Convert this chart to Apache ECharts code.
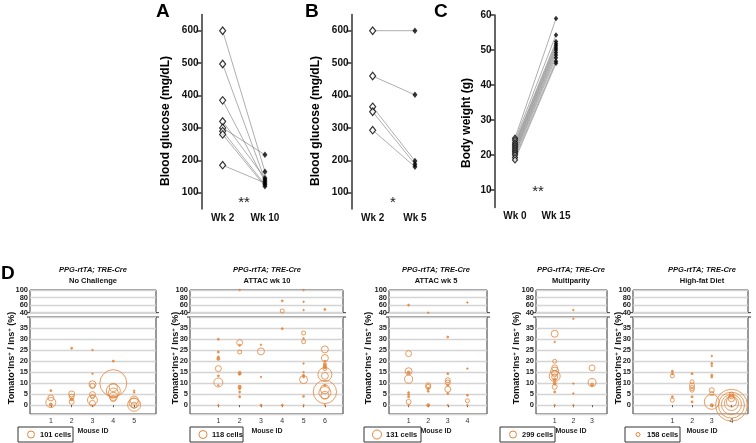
<!DOCTYPE html>
<html><head><meta charset="utf-8">
<script src="https://cdn.jsdelivr.net/npm/echarts@6/dist/echarts.min.js"></script>
<style>html,body{margin:0;padding:0;background:#fff}#c{width:756px;height:443px}</style>
</head><body><div id="c"></div>
<script>
// ================= DATA =================
// Panel A
const catsA = ['Wk 2', 'Wk 10'];
const glucoseA_wk2  = [600, 497, 385, 320, 300, 290, 280, 185];
const glucoseA_wk10 = [165, 140, 135, 145, 217, 125, 120, 130];
// Panel B
const catsB = ['Wk 2', 'Wk 5'];
const glucoseB_wk2 = [600, 460, 365, 350, 293];
const glucoseB_wk5 = [600, 402, 198, 188, 180];
// Panel C
const catsC = ['Wk 0', 'Wk 15'];
const weight_wk0  = [24.8, 24.2, 23.5, 23.0, 22.5, 22.0, 21.5, 21.0, 20.5, 20.0, 19.3, 18.6];
const weight_wk15 = [59.0, 54.3, 52.4, 51.8, 51.2, 50.6, 50.0, 49.3, 48.6, 47.8, 46.8, 46.2];
const glucoseTicks = [100, 200, 300, 400, 500, 600];
const weightTicks = [10, 20, 30, 40, 50, 60];

// Panel D
const dGenotype = 'PPG-rtTA; TRE-Cre';
const dTitles = ['No Challenge', 'ATTAC wk 10', 'ATTAC wk 5', 'Multiparity', 'High-fat Diet'];
const dMice = [[1,2,3,4,5], [1,2,3,4,5,6], [1,2,3,4], [1,2,3], [1,2,3,4]];
const dLegendCells = [101, 118, 131, 299, 158];
const topTickGroups = [[40, 100], [60], [80]];
const bottomTicks = [0, 5, 10, 15, 20, 25, 30, 35];

const noChallenge_mouse = [1,1,1,1, 2,2,2,2,2, 3,3,3,3,3,3,3,3, 4,4,4,4,4,4,4, 5,5,5,5,5,5];
const noChallenge_pct   = [6.6,3.3,1.2,0.3, 25.8,5.1,3.9,2.7,1.5, 25,14.3,9.5,8.7,4.8,3.8,2.3,0.8, 20,10,8,6.5,5.5,4,3, 6.6,5.8,2.3,1,0.2,0];
const noChallenge_cells = [8,74,206,19, 8,74,52,19,52, 2,2,101,52,74,33,206,74, 8,1500,132,404,206,132,74, 2,2,132,206,350,74];

const attac10_mouse = [1,1,1,1,1,1,1,1,1, 2,2,2,2,2,2,2,2,2,2, 3,3,3,3, 4,4,4,4, 5,5,5,5,5,5,5,5,5,5,5,5,5, 6,6,6,6,6,6,6,6,6,6,6,6,6,6,6];
const attac10_pct   = [29.9,24.1,21.9,21.1,16.6,13.3,10.3,9,0, 100,28.4,27.2,24.1,14.6,14,8.3,7.5,6,3.8, 27.4,24.4,12.8,0, 71.3,44.3,34.7,0, 100,68.7,47,32.7,30.3,28.8,18.9,15,13.6,12.8,11.6,4,0, 48.7,25.3,21.4,19.9,18.4,17.3,16.6,13.9,13.3,9,7.2,6,5.7,4.5,0];
const attac10_cells = [7,7,7,17,66,7,149,2,2, 2,66,7,29,17,7,17,7,7,7, 2,90,2,7, 7,29,7,7, 2,2,2,29,2,29,2,2,7,7,118,7,2, 7,90,90,7,17,17,29,361,90,7,149,1000,265,118,2];

const attac5_mouse = [1,1,1,1,1,1,1,1,1,1, 2,2,2,2,2,2, 3,3,3,3,3,3,3,3, 4,4,4,4,4];
const attac5_pct   = [60,23.4,15.4,14.8,11.8,5.7,4.8,3.8,1.5,0, 40,9,8.3,7.5,6.3,0, 30.9,14.3,11.3,10.3,9,7.2,5.3,0, 67,16.6,4.5,2,0];
const attac5_cells = [6,58,79,15,104,6,6,6,40,2, 2,40,40,6,6,15, 6,6,40,40,6,58,6,2, 2,2,6,26,2];

const multiparity_mouse = [1,1,1,1,1,1,1,1,1,1,1,1,1, 2,2,2,2,2, 3,3,3];
const multiparity_pct   = [32.4,28.7,19.9,16.9,15.4,14.3,13.2,12.8,11.6,9.8,8.3,6,0, 47,39.2,9.8,5.3,0, 16.9,10.3,9.3];
const multiparity_cells = [299,6,98,220,390,220,740,220,55,55,153,24,6, 6,6,6,6,6, 220,390,55];

const hfd_mouse = [1,1,1,1,1, 2,2,2,2,2,2,2, 3,3,3,3,3,3,3,3,3, 4,4,4,4,4,4,4,4];
const hfd_pct   = [15.4,14.3,13.3,3.8,2.3, 14.3,10.6,9,7.8,6.8,3.8,1.5, 22.3,18.9,17.8,13.6,12.8,6.8,5.3,1.5,0, 0,0,0.3,0.8,1.5,3,4,5];
const hfd_cells = [40,40,158,40,158, 40,158,247,247,158,40,40, 10,40,10,40,40,247,158,2200,89, 10000,6700,4000,2000,1000,400,250,158];

const dMouseArr = [noChallenge_mouse, attac10_mouse, attac5_mouse, multiparity_mouse, hfd_mouse];
const dPctArr   = [noChallenge_pct, attac10_pct, attac5_pct, multiparity_pct, hfd_pct];
const dCellArr  = [noChallenge_cells, attac10_cells, attac5_cells, multiparity_cells, hfd_cells];

// ================= LAYOUT / STYLE =================
const FONT = '"Liberation Sans", Arial, sans-serif';
const ORANGE = '#E3853A';
const DARK = '#333';

const grids = [], xAxes = [], yAxes = [], series = [], graphics = [];

function topPanel(p) {
  const gi = grids.length;
  grids.push({left: p.left, top: p.top, width: p.width, height: p.height});
  xAxes.push({type: 'category', gridIndex: gi, data: p.cats, boundaryGap: true,
    axisLine: {show: false}, axisTick: {show: false}, splitLine: {show: false},
    axisLabel: {fontSize: 10, fontWeight: 'bold', color: '#111', margin: 4, fontFamily: FONT}});
  const yi = yAxes.length;
  yAxes.push({type: 'value', gridIndex: gi, min: p.ymin, max: p.ymax,
    axisLine: {show: true, lineStyle: {color: DARK, width: 1.5}},
    axisTick: {show: true, length: 5, inside: false, customValues: p.ticks, lineStyle: {color: DARK, width: 1.5}},
    axisLabel: {customValues: p.ticks, fontSize: 10, fontWeight: 'bold', color: '#111', margin: 3, fontFamily: FONT},
    splitLine: {show: false}});
  p.start.forEach((v, i) => {
    series.push({type: 'line', xAxisIndex: gi, yAxisIndex: yi, data: [[0, v], [1, p.end[i]]],
      symbol: 'none', silent: true, lineStyle: {color: '#777', width: 0.6}, z: 2});
  });
  series.push({type: 'scatter', xAxisIndex: gi, yAxisIndex: yi, data: p.start.map(v => [0, v]),
    symbol: 'diamond', symbolSize: p.openSize, itemStyle: {color: '#fff', borderColor: '#000', borderWidth: 1.2}, z: 4});
  series.push({type: 'scatter', xAxisIndex: gi, yAxisIndex: yi, data: p.end.map(v => [1, v]),
    symbol: 'diamond', symbolSize: p.fillSize, itemStyle: {color: '#000'}, z: 4});
  graphics.push({type: 'text', x: p.letterX, y: p.letterY, style: {text: p.letter, font: 'bold 19px ' + FONT, fill: '#000'}});
  graphics.push({type: 'text', x: p.nameX, y: p.nameY, rotation: Math.PI / 2,
    style: {text: p.yName, align: 'center', verticalAlign: 'middle', font: 'bold 12px ' + FONT, fill: '#000'}});
  graphics.push({type: 'text', x: p.sigX, y: p.sigY,
    style: {text: p.sig, align: 'center', verticalAlign: 'middle', font: '15px ' + FONT, fill: '#222'}});
}

topPanel({left: 201.5, top: 14.5, width: 84.6, height: 194.4, cats: catsA, start: glucoseA_wk2, end: glucoseA_wk10,
  ymin: 50, ymax: 650, ticks: glucoseTicks, letter: 'A', letterX: 156, letterY: 2, openSize: [6, 7.5], fillSize: [5, 6.5],
  yName: 'Blood glucose (mg/dL)', nameX: 166, nameY: 121, sig: '**', sigX: 244, sigY: 203});
topPanel({left: 351.5, top: 14.5, width: 84.6, height: 194.4, cats: catsB, start: glucoseB_wk2, end: glucoseB_wk5,
  ymin: 50, ymax: 650, ticks: glucoseTicks, letter: 'B', letterX: 305, letterY: 2, openSize: [6, 7.5], fillSize: [5, 6.5],
  yName: 'Blood glucose (mg/dL)', nameX: 316, nameY: 121, sig: '*', sigX: 393, sigY: 203});
topPanel({left: 494.5, top: 15, width: 82, height: 192.5, cats: catsC, start: weight_wk0, end: weight_wk15,
  ymin: 5, ymax: 60, ticks: weightTicks, letter: 'C', letterX: 434, letterY: 2, openSize: [5, 6], fillSize: [4.5, 5.5],
  yName: 'Body weight (g)', nameX: 467, nameY: 123, sig: '**', sigX: 538, sigY: 192});

// D panels geometry
const dGeom = [
  {left: 30,  right: 156, xmin: 0,     xmax: 6.05, nameOff: 18, legX: 18,  legW: 55, legPx: 7, midX: 93},
  {left: 190, right: 343, xmin: -0.33, xmax: 6.85, nameOff: 14, legX: 190, legW: 53, legPx: 8, midX: 267},
  {left: 389, right: 487, xmin: 0,     xmax: 5,    nameOff: 20, legX: 364, legW: 57, legPx: 9, midX: 436},
  {left: 536, right: 607, xmin: 0,     xmax: 3.8,  nameOff: 19, legX: 500, legW: 55, legPx: 7, midX: 571},
  {left: 633, right: 748, xmin: -1,    xmax: 4.84, nameOff: 14, legX: 625, legW: 55, legPx: 4, midX: 702}
];
const TOP_T = 290, TOP_H = 22.7, BOT_T = 317, BOT_H = 97;
const lblStyle = {fontSize: 7.5, fontWeight: 'bold', color: '#222', fontFamily: FONT, margin: 2,
  showMinLabel: true, showMaxLabel: true};
const splitStyle = {show: true, lineStyle: {color: '#d4d4d4', width: 1.3}};

dGeom.forEach((g, i) => {
  const w = g.right - g.left;
  const giT = grids.length;
  grids.push({left: g.left, top: TOP_T, width: w, height: TOP_H, show: true, borderColor: DARK, borderWidth: 1});
  xAxes.push({type: 'value', gridIndex: giT, min: g.xmin, max: g.xmax, show: false});
  const yiT = yAxes.length;
  topTickGroups.forEach((vals, j) => {
    yAxes.push({type: 'value', gridIndex: giT, min: 40, max: 100, interval: 20, position: 'left',
      axisLine: {show: false}, axisTick: {show: false},
      axisLabel: Object.assign({}, lblStyle, {customValues: vals}),
      splitLine: j === 0 ? splitStyle : {show: false}});
  });
  const giB = grids.length;
  grids.push({left: g.left, top: BOT_T, width: w, height: BOT_H, show: true, borderColor: DARK, borderWidth: 1});
  xAxes.push({type: 'value', gridIndex: giB, min: g.xmin, max: g.xmax,
    axisLine: {show: false}, splitLine: {show: false},
    axisTick: {show: true, length: 2, customValues: dMice[i], lineStyle: {color: '#555'}},
    axisLabel: {customValues: dMice[i], fontSize: 7, color: '#333', margin: 4, fontFamily: FONT}});
  const yiB = yAxes.length;
  yAxes.push({type: 'value', gridIndex: giB, min: -4, max: 40, splitNumber: 9,
    axisLine: {show: false}, axisTick: {show: false},
    axisLabel: Object.assign({}, lblStyle, {customValues: bottomTicks}),
    splitLine: splitStyle});

  const toItem = (m, k) => {
    const cells = dCellArr[i][k];
    const d = g.legPx * Math.sqrt(cells / dLegendCells[i]);
    return {value: [m, dPctArr[i][k]], symbolSize: Math.max(d, 1.5),
      itemStyle: {color: d < 3.5 ? ORANGE : 'rgba(0,0,0,0)', borderColor: ORANGE, borderWidth: 1}};
  };
  const topPts = [], botPts = [];
  dMouseArr[i].forEach((m, k) => {
    (dPctArr[i][k] >= 40 ? topPts : botPts).push(toItem(m, k));
  });
  topPts.sort((a, b) => b.symbolSize - a.symbolSize);
  botPts.sort((a, b) => b.symbolSize - a.symbolSize);
  series.push({type: 'scatter', xAxisIndex: giT, yAxisIndex: yiT, data: topPts, symbol: 'circle', clip: false, z: 5});
  series.push({type: 'scatter', xAxisIndex: giB, yAxisIndex: yiB, data: botPts, symbol: 'circle', clip: false, z: 5});

  // break marks
  [TOP_T + TOP_H, BOT_T].forEach(y => {
    graphics.push({type: 'line', shape: {x1: g.left - 3, y1: y, x2: g.left, y2: y}, style: {stroke: DARK, lineWidth: 1}});
    graphics.push({type: 'line', shape: {x1: g.right, y1: y, x2: g.right + 3, y2: y}, style: {stroke: DARK, lineWidth: 1}});
  });
  // titles
  graphics.push({type: 'text', x: g.midX, y: 270, style: {text: dGenotype, align: 'center', verticalAlign: 'middle', font: 'italic bold 7.5px ' + FONT, fill: '#111'}});
  graphics.push({type: 'text', x: g.midX, y: 281, style: {text: dTitles[i], align: 'center', verticalAlign: 'middle', font: 'bold 7.5px ' + FONT, fill: '#111'}});
  // y-axis name
  graphics.push({type: 'text', x: g.left - g.nameOff, y: 358, rotation: Math.PI / 2,
    style: {text: '{n|Tomato}{s|+}{n|Ins}{s|+}{n| / Ins}{s|+}{n| (%)}', align: 'center', verticalAlign: 'middle',
      rich: {n: {font: 'bold 9px ' + FONT, fill: '#111', lineHeight: 12}, s: {font: 'bold 6px ' + FONT, fill: '#111', verticalAlign: 'top', lineHeight: 12}}}});
  // Mouse ID
  graphics.push({type: 'text', x: g.midX, y: 431, style: {text: 'Mouse ID', align: 'center', verticalAlign: 'middle', font: 'bold 7px ' + FONT, fill: '#222'}});
  // legend box
  graphics.push({type: 'rect', shape: {x: g.legX, y: 427, width: g.legW, height: 15}, style: {fill: '#fff', stroke: DARK, lineWidth: 1}});
  graphics.push({type: 'circle', shape: {cx: g.legX + 13, cy: 434.5, r: g.legPx / 2}, style: {fill: 'none', stroke: ORANGE, lineWidth: 1}});
  graphics.push({type: 'text', x: g.legX + 22, y: 434.5, style: {text: dLegendCells[i] + ' cells', verticalAlign: 'middle', font: 'bold 7.5px ' + FONT, fill: '#111'}});
});
graphics.push({type: 'text', x: 1, y: 264, style: {text: 'D', font: 'bold 19px ' + FONT, fill: '#000'}});

const chart = echarts.init(document.getElementById('c'), null, {width: 756, height: 443});
chart.setOption({
  animation: false,
  backgroundColor: '#fff',
  textStyle: {fontFamily: FONT},
  grid: grids, xAxis: xAxes, yAxis: yAxes, series: series, graphic: graphics
});
</script></body></html>
